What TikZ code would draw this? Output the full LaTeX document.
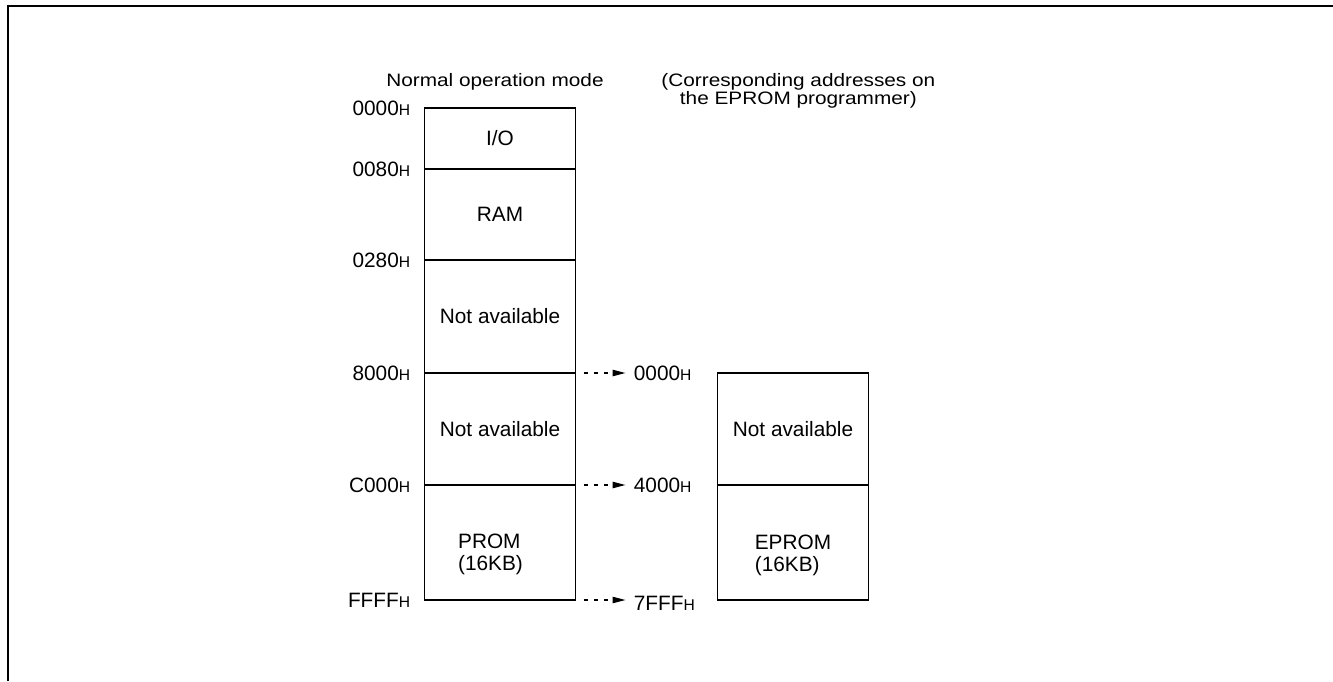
\documentclass[tikz,border=0pt]{standalone}
\usepackage{fontspec}
\setmainfont{Liberation Sans}
\newfontfamily\widefont[FakeStretch=1.155]{Liberation Sans}
\usetikzlibrary{positioning}
\usetikzlibrary{arrows.meta}
\newcommand{\hexh}[1]{#1{\fontsize{7.8}{9}\selectfont H}}

\begin{document}
\begin{tikzpicture}[x=0.5pt, y=-0.5pt, font=\fontsize{10.4}{11.2}\selectfont,
block/.style = {rectangle, draw, line width=0.7pt, outer sep=0pt, minimum width=75.5pt},
addr/.style = {inner sep=0pt},
heading/.style = {inner sep=0pt, font=\widefont\fontsize{9}{10.8}\selectfont},
mapto/.style = {-{Triangle[length=6.5pt,width=3.2pt]}, dash pattern=on 2pt off 3.2pt, shorten <=4pt, shorten >=4pt, line width=0.6pt}
]
\useasboundingbox (0,0) rectangle (1333,681);
\draw[line width=0.9pt] (8,681) -- (8,6) -- (1333,6);

% normal operation mode
\node (io)[block, minimum height=30.5pt, anchor=north] at (500,108) {I/O};
\node (ram)[block, minimum height=45.5pt, below=0pt of io] {RAM};
\node (na1)[block, minimum height=56.5pt, below=0pt of ram] {Not available};
\node (na2)[block, minimum height=56pt, below=0pt of na1] {Not available};
\node (prom)[block, minimum height=57.5pt, below=0pt of na2] {};
\node (promtext)[align=left] at ([xshift=-4.75pt, yshift=-6pt]prom.center) {PROM\\(16KB)};

% EPROM programmer
\node (na3)[block, minimum height=56pt, right=71pt of na2] {Not available};
\node (eprom)[block, minimum height=57.5pt, below=0pt of na3] {};
\node (epromtext)[align=left] at ([yshift=-6.5pt]eprom.center) {EPROM\\(16KB)};

\node (mode)[heading, above=8.75pt of io.north, xshift=-2.5pt] {Normal operation mode};
\node (progmode)[heading, align=center, right=28.5pt of mode.north east, anchor=north west] {(Corresponding addresses on\\[-1.8pt]the EPROM programmer)};

\node (a0000)[addr, left=7pt of io.north west] {\hexh{0000}};
\node (a0080)[addr, left=7pt of ram.north west] {\hexh{0080}};
\node (a0280)[addr, left=7pt of na1.north west] {\hexh{0280}};
\node (a8000)[addr, left=7pt of na2.north west] {\hexh{8000}};
\node (ac000)[addr, left=7pt of prom.north west] {\hexh{C000}};
\node (affff)[addr, left=7pt of prom.south west] {\hexh{FFFF}};

\node (b0000)[addr, right=29pt of na2.north east] {\hexh{0000}};
\node (b4000)[addr, right=29pt of prom.north east] {\hexh{4000}};
\node (b7fff)[addr, right=29pt of prom.south east, yshift=-1.5pt] {\hexh{7FFF}};

\draw[mapto] (na2.north east) -- (b0000.west);
\draw[mapto] (prom.north east) -- (b4000.west);
\draw[mapto] (prom.south east) -- (prom.south east -| b7fff.west);

\end{tikzpicture}
\end{document}
